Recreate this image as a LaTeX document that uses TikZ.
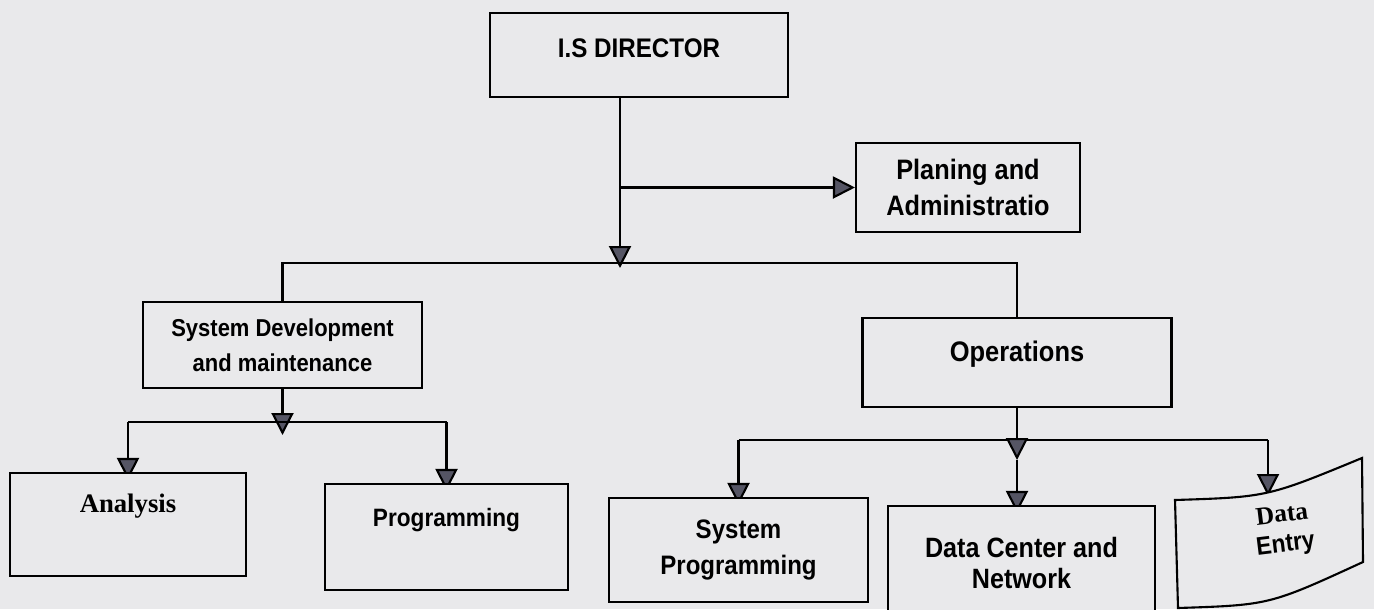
\documentclass[tikz,border=0pt]{standalone}
\usepackage{fontspec}
\setmainfont{Liberation Serif}
\setsansfont{Liberation Sans}[FakeStretch=0.9]
\usetikzlibrary{arrows.meta,backgrounds}
\definecolor{paper}{RGB}{233,233,235}
\definecolor{tipgray}{RGB}{85,85,100}
\tikzset{
  box/.style={draw, fill=paper, line width=1.2pt, align=center, inner sep=2pt},
  lab/.style={font=\sffamily\bfseries\fontsize{#1}{20}\selectfont},
  wire/.style={line width=1.2pt},
  conn/.style={wire, -{Triangle[length=0.44cm,width=0.44cm,fill=tipgray]}},
}
\begin{document}
\begin{tikzpicture}
  \useasboundingbox (0,0) rectangle (27.48,-12.18);
  % boxes
  \node[box, lab=15.3, minimum width=5.96cm, minimum height=1.68cm, text depth=0.28cm] (dir) at (12.78,-1.10) {I.S DIRECTOR};
  \node[box, lab=16, minimum width=4.48cm, minimum height=1.78cm] (plan) at (19.36,-3.75) {Planing and\\Administratio};
  \node[box, lab=13.9, minimum width=5.58cm, minimum height=1.72cm] (sysdev) at (5.65,-6.90) {System Development\\and maintenance};
  \node[box, lab=16.1, minimum width=6.18cm, minimum height=1.78cm, text depth=0.44cm] (ops) at (20.34,-7.25) {Operations};
  \node[box, font=\rmfamily\bfseries\fontsize{15.2}{18}\selectfont, minimum width=4.72cm, minimum height=2.06cm, text depth=0.84cm] (ana) at (2.56,-10.49) {Analysis};
  \node[box, lab=14.3, minimum width=4.86cm, minimum height=2.12cm, text depth=0.8cm] (prog) at (8.93,-10.74) {Programming};
  \node[box, lab=15.2, minimum width=5.18cm, minimum height=2.08cm] (sysprog) at (14.77,-11.00) {System\\Programming};
  \node[box, font=\sffamily\bfseries\fontsize{15.9}{17.5}\selectfont, minimum width=5.34cm, minimum height=2.28cm] (dcn) at (20.43,-11.26) {Data Center and\\Network};
  \draw[fill=paper, line width=1.2pt] (23.50,-10.00) .. controls (25.35,-9.94) .. (27.24,-9.16)
    -- (27.26,-11.24) .. controls (25.39,-12.10) .. (23.56,-12.16) -- cycle;
  \node[rotate=7, align=center, font=\bfseries\fontsize{14.5}{17}\selectfont] (dent) at (25.68,-10.62)
    {\rmfamily Data\\\sffamily Entry};
  \coordinate (de) at (25.36,-9.76);
  % connectors
  \begin{scope}[on background layer]
    \fill[paper] (0,0) rectangle (27.48,-12.18);
    \coordinate (d0) at (12.40,-1.94);
    \coordinate (d1) at (d0 |- plan.west);
    \coordinate (b1) at (sysdev.north |- 0,-5.26);
    \coordinate (b2) at (ops.north |- 0,-5.26);
    \draw[wire] (d0) -- (d1);
    \draw[conn] (d1) -- (plan.west);
    \draw[conn, shorten >=-0.1cm] (d1) -- (d1 |- b1);
    \draw[wire] (sysdev.north) -- (b1) -- (b2) -- (ops.north);
    % system development
    \coordinate (s1) at (ana.north |- 0,-8.44);
    \coordinate (s2) at (prog.north |- 0,-8.44);
    \draw[conn, shorten >=-0.26cm] (sysdev.south) -- (sysdev.south |- s1);
    \draw[wire] (s1) -- (s2);
    \draw[conn, shorten >=-0.16cm] (s1) -- (ana.north);
    \draw[conn, shorten >=-0.16cm] (s2) -- (prog.north);
    % operations
    \coordinate (o1) at (sysprog.north |- 0,-8.80);
    \coordinate (o2) at (de |- o1);
    \coordinate (om) at (ops.south |- 0,-9.20);
    \draw[wire] (o1) -- (o2);
    \draw[conn] (ops.south) -- (om);
    \draw[conn, shorten >=-0.16cm] (om) -- (om |- dcn.north);
    \draw[conn, shorten >=-0.16cm] (o1) -- (sysprog.north);
    \draw[conn, shorten >=-0.16cm] (o2) -- (de);
  \end{scope}
\end{tikzpicture}
\end{document}
